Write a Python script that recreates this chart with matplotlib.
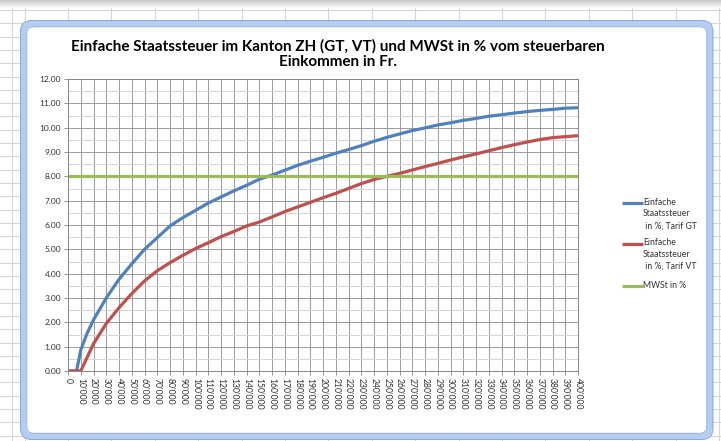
import matplotlib
matplotlib.use("Agg")
import matplotlib.pyplot as plt
from matplotlib.patches import FancyBboxPatch, Rectangle

plt.rcParams['font.family'] = ['Lato', 'DejaVu Sans']

# einkommen (Fr.) und einfache Staatssteuer in %
income_ticks = list(range(0, 400001, 10000))
tick_labels = ["{:,}".format(v).replace(",", "'") for v in income_ticks]

income_gt = [0, 6700, 10000, 15000] + list(range(20000, 400001, 10000))
tax_gt = [0, 0, 0.86, 1.55,
          2.1, 3.0, 3.77, 4.4, 5.0, 5.48, 5.96, 6.3, 6.6,
          6.9, 7.15, 7.4, 7.63, 7.88, 8.05, 8.25, 8.45, 8.62, 8.78,
          8.95, 9.1, 9.26, 9.44, 9.6, 9.74, 9.88, 9.99, 10.11, 10.2,
          10.3, 10.38, 10.47, 10.53, 10.6, 10.66, 10.71, 10.75, 10.8, 10.82]

income_vt = [0] + list(range(10000, 400001, 10000))
tax_vt = [0, 0, 1.12, 1.95, 2.6, 3.18, 3.7, 4.12, 4.45, 4.75,
          5.03, 5.27, 5.52, 5.73, 5.96, 6.12, 6.33, 6.55, 6.74, 6.93, 7.12,
          7.3, 7.5, 7.7, 7.87, 8.0, 8.12, 8.26, 8.4, 8.53, 8.67,
          8.8, 8.92, 9.05, 9.18, 9.3, 9.41, 9.51, 9.59, 9.63, 9.67]

income_mwst = [0, 400000]
mwst = [8.0, 8.0]

series_labels = ["Einfache\nStaatssteuer\n in %, Tarif GT",
                 "Einfache\nStaatssteuer\n in %, Tarif VT",
                 "MWSt in %"]
colors = ['#4f81bd', '#c0504d', '#9bbb59']
title = "Einfache Staatssteuer im Kanton ZH (GT, VT) und MWSt in % vom steuerbaren\nEinkommen in Fr."

W, H = 721, 441
fig = plt.figure(figsize=(W / 100, H / 100), dpi=100)

# --- Excel-Hintergrund (Zellen + Diagrammrahmen), in Pixelkoordinaten
bg = fig.add_axes([0, 0, 1, 1])
bg.set_xlim(0, W)
bg.set_ylim(H, 0)
bg.axis('off')
for x in [12, 25] + [68 + 43.4 * k for k in range(16)]:
    bg.plot([x, x], [8, H], color='#d6d6d6', lw=0.8, zorder=0)
for k in range(34):
    y = 10 + 13.3 * k
    bg.plot([0, W], [y, y], color='#d6d6d6', lw=0.8, zorder=0)
for k in range(8):
    bg.add_patch(Rectangle((0, k), W, 1, color=str(0.80 + 0.025 * k), lw=0, zorder=1))
bg.add_patch(FancyBboxPatch((23.5, 23.5), 686.5, 413,
                            boxstyle="round,pad=0,rounding_size=9",
                            facecolor='white', edgecolor='#b4cdf0', lw=4.4, zorder=2))
bg.add_patch(FancyBboxPatch((20.5, 20.5), 692.5, 419,
                            boxstyle="round,pad=0,rounding_size=11",
                            facecolor='none', edgecolor='#86a8da', lw=0.7, zorder=3))
bg.add_patch(FancyBboxPatch((26.8, 26.8), 680, 406.5,
                            boxstyle="round,pad=0,rounding_size=7",
                            facecolor='none', edgecolor='#86a8da', lw=0.6, zorder=3))

bg.text(338, 54, title, ha='center', va='center', fontsize=11,
        fontweight='bold', linespacing=1.2, color='black', zorder=4)

# --- Diagramm
ax = fig.add_axes([68 / W, 1 - 371 / H, 510 / W, 292 / H])
ax.plot(income_gt, tax_gt, color=colors[0], lw=2.3, solid_capstyle='butt')
ax.plot(income_vt, tax_vt, color=colors[1], lw=2.3, solid_capstyle='butt')
ax.plot(income_mwst, mwst, color=colors[2], lw=2.3, solid_capstyle='butt')

ax.set_xlim(0, 400000)
ax.set_ylim(0, 12)
ax.set_xticks(income_ticks)
ax.set_xticklabels(tick_labels, rotation=270, fontsize=6.2, color='#333333')
ax.set_yticks(range(0, 13))
ax.set_yticklabels(["%.2f" % v for v in range(0, 13)], fontsize=6.0, color='#333333')
ax.set_yticks([v + 0.5 for v in range(12)], minor=True)
ax.tick_params(axis='both', which='major', length=3, width=0.6, color='#868686', pad=2)
ax.tick_params(axis='y', which='minor', length=0)
ax.grid(True, which='major', color='#9a9a9a', lw=0.7)
ax.grid(True, which='minor', axis='y', color='#d4d4d4', lw=0.7)
ax.set_axisbelow(True)
for s in ax.spines.values():
    s.set_color('#868686')
    s.set_linewidth(0.7)

# --- Legende
legend_y = [203, 243.5, 286]
for lbl, c, y in zip(series_labels, colors, legend_y):
    bg.plot([622, 643], [y, y], color=c, lw=2.3, solid_capstyle='butt', zorder=4)
    bg.text(643, y - 5.4, lbl, ha='left', va='top', fontsize=6.2,
            linespacing=1.4, color='#333333', zorder=4)

fig.savefig("out.png", dpi=100)
